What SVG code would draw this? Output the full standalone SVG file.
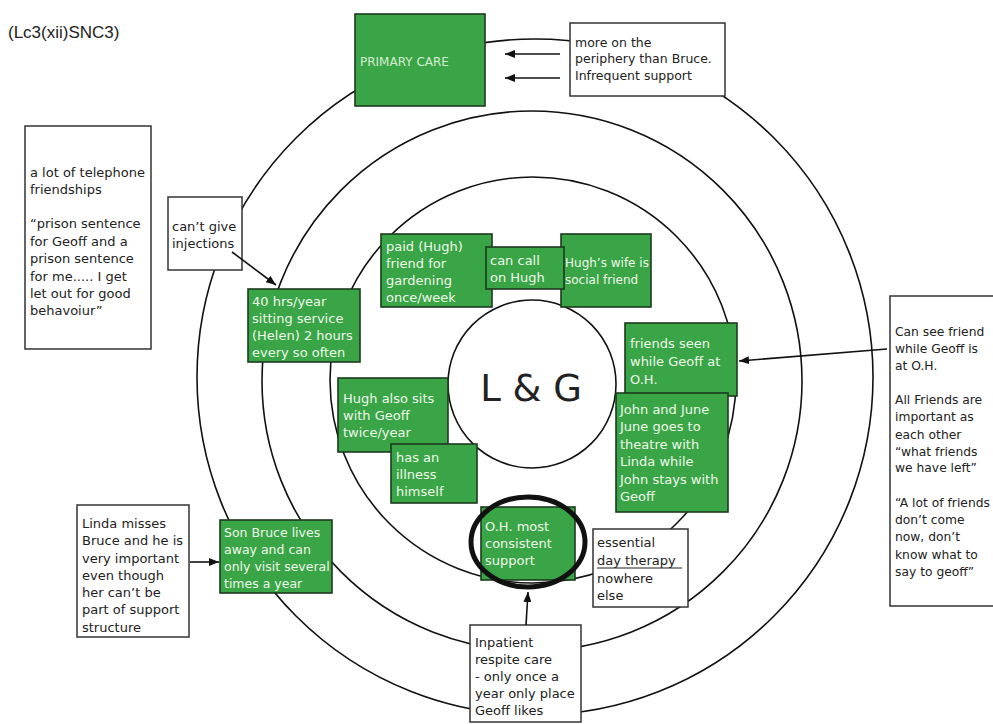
<svg xmlns="http://www.w3.org/2000/svg" width="993" height="724" viewBox="0 0 993 724">
<defs>
<marker id="ah" markerUnits="userSpaceOnUse" markerWidth="10" markerHeight="8" refX="10" refY="4" orient="auto">
<path d="M0,0 L10,4 L0,8 z" fill="#111"/>
</marker>
<style>
.ring{fill:none;stroke:#111;stroke-width:1.6}
.g{fill:#3aa546;stroke:#1d3a1d;stroke-width:1.6}
.w{fill:#fff;stroke:#333;stroke-width:1.5}
.tg{font-family:"DejaVu Sans",sans-serif;font-size:13px;fill:#eef8ea}
.tw{font-family:"DejaVu Sans",sans-serif;font-size:13px;fill:#222}
.c{stroke:#111;stroke-width:1.6;fill:none;marker-end:url(#ah)}
</style>
</defs>
<rect width="993" height="724" fill="#fff"/>
<text x="8" y="38" font-family="Liberation Sans, Arial, sans-serif" font-size="17" fill="#222">(Lc3(xii)SNC3)</text>

<g id="rings">
<circle class="ring" cx="535" cy="377" r="338"/>
<circle class="ring" cx="532" cy="381" r="270"/>
<circle class="ring" cx="533" cy="380" r="203"/>
</g>

<g id="center">
<circle cx="532" cy="384" r="84" fill="#fff" stroke="#111" stroke-width="1.6"/>
<text x="531" y="401" text-anchor="middle" font-family="DejaVu Sans, sans-serif" font-size="37" fill="#222">L &amp; G</text>
</g>

<g id="primary-care">
<rect class="g" x="355" y="14" width="130" height="92"/>
<text class="tg" x="360" y="66" style="font-size:12px;fill:#d4eed0">PRIMARY CARE</text>
</g>

<g id="periphery-note">
<rect class="w" x="570" y="23" width="155" height="73"/>
<text class="tw" style="font-size:12.5px"><tspan x="575" y="47">more on the</tspan><tspan x="575" y="63">periphery than Bruce.</tspan><tspan x="575" y="80">Infrequent support</tspan></text>
</g>

<g id="telephone-note">
<rect class="w" x="25" y="126" width="126" height="223"/>
<text class="tw"><tspan x="30" y="177">a lot of telephone</tspan><tspan x="30" y="194">friendships</tspan><tspan x="30" y="228">“prison sentence</tspan><tspan x="30" y="246">for Geoff and a</tspan><tspan x="30" y="263">prison sentence</tspan><tspan x="30" y="281">for me..... I get</tspan><tspan x="30" y="298">let out for good</tspan><tspan x="30" y="315">behavoiur”</tspan></text>
</g>

<g id="injections-note">
<rect class="w" x="168" y="197" width="74" height="73"/>
<text class="tw"><tspan x="172" y="231">can’t give</tspan><tspan x="172" y="248">injections</tspan></text>
</g>

<g id="sitting-service">
<rect class="g" x="248" y="289" width="112" height="73"/>
<text class="tg"><tspan x="252" y="306">40 hrs/year</tspan><tspan x="252" y="323">sitting service</tspan><tspan x="252" y="340">(Helen) 2 hours</tspan><tspan x="252" y="357">every so often</tspan></text>
</g>

<g id="paid-hugh">
<rect class="g" x="381" y="234" width="111" height="73"/>
<text class="tg"><tspan x="386" y="251">paid (Hugh)</tspan><tspan x="386" y="268">friend for</tspan><tspan x="386" y="285">gardening</tspan><tspan x="386" y="302">once/week</tspan></text>
</g>

<g id="hughs-wife">
<rect class="g" x="561" y="234" width="90" height="73"/>
<text class="tg" style="font-size:12px"><tspan x="565" y="267">Hugh’s wife is</tspan><tspan x="565" y="284">social friend</tspan></text>
</g>

<g id="call-hugh">
<rect class="g" x="486" y="247" width="78" height="42"/>
<text class="tg"><tspan x="490" y="265">can call</tspan><tspan x="490" y="282">on Hugh</tspan></text>
</g>

<g id="friends-seen">
<rect class="g" x="625" y="323" width="112" height="73"/>
<text class="tg"><tspan x="630" y="348">friends seen</tspan><tspan x="630" y="366">while Geoff at</tspan><tspan x="630" y="384">O.H.</tspan></text>
</g>

<g id="john-june">
<rect class="g" x="616" y="393" width="112" height="119"/>
<text class="tg"><tspan x="620" y="414">John and June</tspan><tspan x="620" y="431">June goes to</tspan><tspan x="620" y="449">theatre with</tspan><tspan x="620" y="466">Linda while</tspan><tspan x="620" y="484">John stays with</tspan><tspan x="620" y="501">Geoff</tspan></text>
</g>

<g id="hugh-sits">
<rect class="g" x="338" y="378" width="110" height="74"/>
<text class="tg"><tspan x="343" y="403">Hugh also sits</tspan><tspan x="343" y="420">with Geoff</tspan><tspan x="343" y="437">twice/year</tspan></text>
</g>

<g id="illness">
<rect class="g" x="391" y="444" width="86" height="59"/>
<text class="tg"><tspan x="396" y="462">has an</tspan><tspan x="396" y="479">illness</tspan><tspan x="396" y="496">himself</tspan></text>
</g>

<g id="oh-support">
<rect class="g" x="481" y="507" width="94" height="73"/>
<text class="tg"><tspan x="485" y="531">O.H. most</tspan><tspan x="485" y="548">consistent</tspan><tspan x="485" y="565">support</tspan></text>
<ellipse cx="528" cy="542" rx="57" ry="45" fill="none" stroke="#111" stroke-width="5"/>
</g>

<g id="day-therapy">
<rect class="w" x="593" y="529" width="95" height="78"/>
<text class="tw"><tspan x="597" y="547">essential</tspan><tspan x="597" y="565">day therapy</tspan><tspan x="597" y="583">nowhere</tspan><tspan x="597" y="600">else</tspan></text>
<line x1="597" y1="568" x2="682" y2="568" stroke="#222" stroke-width="1"/>
</g>

<g id="inpatient">
<rect class="w" x="470" y="625" width="111" height="97"/>
<text class="tw"><tspan x="475" y="647">Inpatient</tspan><tspan x="475" y="664">respite care</tspan><tspan x="475" y="681">- only once a</tspan><tspan x="475" y="698">year only place</tspan><tspan x="475" y="715">Geoff likes</tspan></text>
</g>

<g id="son-bruce">
<rect class="g" x="220" y="520" width="112" height="73"/>
<text class="tg" style="font-size:12.5px"><tspan x="224" y="537">Son Bruce lives</tspan><tspan x="224" y="554">away and can</tspan><tspan x="224" y="571">only visit several</tspan><tspan x="224" y="588">times a year</tspan></text>
</g>

<g id="linda-note">
<rect class="w" x="77" y="505" width="112" height="132"/>
<text class="tw"><tspan x="82" y="528">Linda misses</tspan><tspan x="82" y="545">Bruce and he is</tspan><tspan x="82" y="563">very important</tspan><tspan x="82" y="580">even though</tspan><tspan x="82" y="597">her can’t be</tspan><tspan x="82" y="614">part of support</tspan><tspan x="82" y="632">structure</tspan></text>
</g>

<g id="friends-note">
<rect class="w" x="890" y="296" width="110" height="310"/>
<text class="tw" style="font-size:12.3px"><tspan x="895" y="336">Can see friend</tspan><tspan x="895" y="353">while Geoff is</tspan><tspan x="895" y="370">at O.H.</tspan><tspan x="895" y="404">All Friends are</tspan><tspan x="895" y="421">important as</tspan><tspan x="895" y="439">each other</tspan><tspan x="895" y="456">“what friends</tspan><tspan x="895" y="472">we have left”</tspan><tspan x="895" y="507">“A lot of friends</tspan><tspan x="895" y="524">don’t come</tspan><tspan x="895" y="541">now, don’t</tspan><tspan x="895" y="559">know what to</tspan><tspan x="895" y="576">say to geoff”</tspan></text>
</g>

<g id="connectors">
<line class="c" x1="560" y1="54" x2="505" y2="54"/>
<line class="c" x1="560" y1="78" x2="505" y2="78"/>
<line class="c" x1="232" y1="252" x2="276" y2="285"/>
<line class="c" x1="887" y1="349" x2="739" y2="361"/>
<line class="c" x1="190" y1="562" x2="219" y2="562"/>
<line class="c" x1="526" y1="625" x2="528" y2="592"/>
</g>
</svg>
